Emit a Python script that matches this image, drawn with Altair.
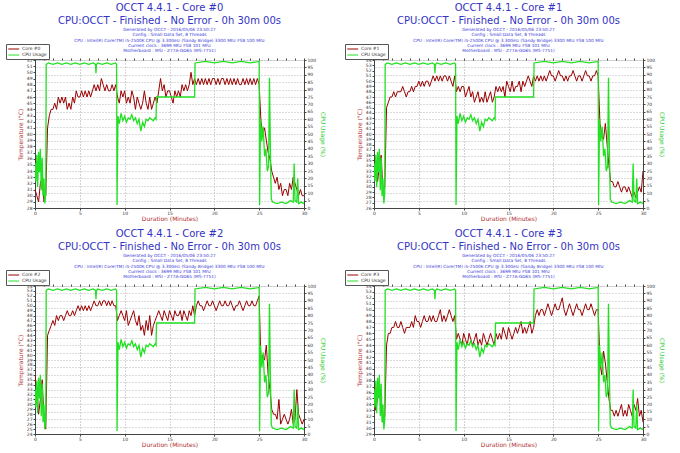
import altair as alt
import pandas as pd

# ---------------- data ----------------
STEP = 0.2  # minutes between temperature samples below (0.0 ... 30.0)

core0_temp = [31, 30, 29, 32, 33, 29, 30, 41, 43, 44,
              44, 45, 44, 46, 45, 46, 45, 46, 44, 45,
              44, 46, 45, 47, 46, 46, 47, 46, 47, 46,
              47, 46, 47, 48, 47, 48, 47, 49, 48, 47,
              48, 47, 47, 48, 47, 48, 46, 45, 47, 46,
              47, 45, 46, 45, 47, 46, 44, 46, 45, 44,
              45, 47, 45, 44, 46, 44, 45, 46, 45, 47,
              49, 47, 48, 46, 47, 47, 46, 45, 47, 46,
              47, 46, 48, 47, 48, 47, 48, 50, 48, 49,
              48, 49, 48, 49, 48, 49, 48, 49, 48, 49,
              49, 48, 49, 48, 49, 49, 48, 49, 48, 49,
              48, 49, 48, 49, 48, 48, 49, 48, 49, 48,
              49, 48, 49, 48, 49, 48, 42, 40, 41, 39,
              37, 36, 34, 33, 32, 33, 31, 32, 30, 31,
              31, 30, 32, 31, 33, 32, 31, 30, 31, 30,
              30]

core1_temp = [33, 35, 31, 34, 36, 29, 30, 45, 46, 47,
              47, 48, 47, 48, 48, 48, 49, 48, 47, 48,
              48, 49, 48, 49, 49, 50, 49, 50, 49, 50,
              50, 49, 50, 51, 50, 51, 50, 51, 50, 51,
              51, 50, 51, 50, 49, 51, 48, 49, 48, 49,
              49, 47, 48, 49, 47, 48, 46, 47, 48, 46,
              47, 46, 48, 46, 47, 48, 46, 47, 49, 48,
              49, 48, 49, 47, 50, 49, 48, 50, 48, 49,
              49, 50, 48, 50, 49, 50, 51, 50, 49, 51,
              50, 51, 50, 51, 50, 51, 50, 51, 52, 51,
              51, 50, 51, 52, 51, 51, 50, 51, 50, 51,
              51, 52, 51, 50, 51, 51, 50, 51, 52, 51,
              51, 50, 51, 51, 52, 51, 42, 40, 39, 42,
              38, 34, 31, 31, 30, 30, 31, 30, 29, 30,
              30, 29, 30, 29, 28, 29, 28, 29, 30, 29,
              33]

core2_temp = [36, 33, 28, 31, 35, 27, 25, 44, 45, 46,
              47, 46, 48, 47, 48, 48, 47, 48, 49, 48,
              48, 49, 48, 49, 50, 49, 50, 49, 50, 49,
              50, 49, 50, 51, 50, 50, 51, 50, 51, 51,
              50, 51, 50, 51, 50, 50, 47, 48, 49, 48,
              47, 49, 46, 47, 48, 49, 47, 46, 48, 45,
              46, 44, 47, 45, 48, 44, 46, 47, 48, 49,
              48, 47, 49, 48, 47, 49, 48, 47, 49, 48,
              48, 49, 47, 49, 48, 47, 49, 48, 50, 48,
              50, 51, 50, 50, 49, 50, 51, 50, 50, 51,
              50, 49, 50, 51, 50, 50, 51, 50, 50, 51,
              50, 49, 50, 50, 51, 50, 49, 50, 51, 50,
              50, 51, 50, 50, 51, 52, 38, 40, 39, 42,
              36, 33, 29, 28, 28, 27, 31, 26, 27, 28,
              27, 26, 27, 29, 26, 27, 33, 28, 27, 26,
              27]

core3_temp = [37, 33, 35, 36, 34, 31, 32, 44, 46, 46,
              47, 47, 48, 47, 47, 48, 47, 46, 47, 47,
              47, 48, 47, 49, 48, 48, 47, 48, 49, 48,
              48, 49, 48, 49, 48, 48, 49, 50, 48, 49,
              48, 49, 50, 49, 48, 49, 45, 46, 45, 44,
              46, 45, 44, 46, 45, 44, 45, 46, 44, 45,
              44, 46, 45, 44, 45, 46, 45, 44, 46, 45,
              46, 45, 47, 46, 45, 47, 46, 45, 46, 47,
              46, 47, 48, 46, 47, 46, 47, 48, 46, 47,
              49, 50, 49, 50, 50, 49, 50, 51, 50, 49,
              50, 51, 50, 50, 51, 52, 50, 49, 50, 51,
              50, 49, 50, 51, 50, 50, 49, 50, 51, 50,
              50, 51, 50, 49, 50, 50, 41, 39, 43, 41,
              38, 35, 33, 33, 32, 33, 32, 33, 34, 32,
              33, 32, 34, 33, 32, 34, 33, 35, 32, 33,
              31]

cpu_time = [0.0, 0.1, 0.2, 0.3, 0.4, 0.5, 0.6, 0.7, 0.8, 0.9, 1.0, 1.1, 1.2,
            1.25, 1.5, 2.0, 2.5, 3.0, 3.5, 4.0, 4.5, 5.0, 5.5, 6.0, 6.5, 6.75,
            6.8, 6.85, 7.0, 7.5, 8.0, 8.5, 9.0, 9.1, 9.15,
            9.25, 9.4, 9.6, 9.8,
            10.0, 10.2, 10.4, 10.6, 10.8, 11.0, 11.2, 11.4, 11.6, 11.8, 12.0, 12.2,
            12.4, 12.6, 12.8, 13.0, 13.2, 13.4,
            13.5, 13.55, 14.5, 15.5, 16.5, 17.8, 17.85,
            19.0, 20.0, 21.0, 22.0, 23.0, 24.0,
            25.0, 25.05, 25.15, 25.3, 25.45, 25.6, 25.75, 25.9, 26.05, 26.15, 26.25, 26.35, 26.5,
            27.0, 27.5, 28.0, 28.5, 28.8, 28.9, 29.0, 29.2, 29.3, 29.4, 29.7, 30.0]
cpu_value = [30, 18, 36, 14, 38, 24, 40, 12, 34, 8, 20, 3, 10,
             97, 98, 97, 98, 97, 98, 97, 98, 97, 98, 97, 98, 97,
             91, 97, 98, 97, 98, 97, 98, 97, 2,
             62, 57, 64, 59,
             62, 58, 61, 60, 63, 59, 61, 57, 60, 52, 58, 55,
             60, 59, 61, 60, 59, 61,
             60, 75, 75, 75, 75, 75, 98,
             99, 98, 99, 98, 99, 98,
             99, 2, 60, 45, 55, 35, 40, 25, 28, 88, 40, 6, 4,
             3, 4, 3, 5, 4, 30, 5, 4, 20, 3, 4, 3]

core_names = ["Core #0", "Core #1", "Core #2", "Core #3"]
core_temps = [core0_temp, core1_temp, core2_temp, core3_temp]
temp_ranges = [(28, 52), (26, 54), (24, 54), (29, 54)]
major_minutes = [0, 5, 10, 15, 20, 25, 30]
minor_minutes = list(range(0, 31))

info_lines = [
    "Generated by OCCT - 2016/05/06 23:50:27",
    "Config : Small Data Set, 8 Threads",
    "CPU : Intel(R) Core(TM) i5-2500K CPU @ 3.30GHz (Sandy Bridge) 3300 Mhz FSB 100 Mhz",
    "Current clock : 3699 Mhz FSB 101 Mhz",
    "Motherboard : MSI - Z77A-GD65 (MS-7751)",
]
status_line = "CPU:OCCT - Finished - No Error - 0h 30m 00s"

# ---------------- styling ----------------
RED = "#990000"
GREEN = "#22E022"
BLUE = "#3333C4"
SUBBLUE = "#3A3AD8"
FONT = "DejaVu Sans"
PW, PH = 269, 148


def panel(name, temps, lo, hi):
    tdf = pd.DataFrame({"t": [round(i * STEP, 2) for i in range(len(temps))],
                        "v": temps, "s": name})
    cdf = pd.DataFrame({"t": cpu_time, "v": cpu_value, "s": "CPU Usage"})
    color = alt.Color(
        "s:N",
        scale=alt.Scale(domain=[name, "CPU Usage"], range=[RED, GREEN]),
        legend=alt.Legend(
            orient="none", legendX=-29, legendY=-16, title=None,
            direction="vertical", fillColor="white", strokeColor="#555",
            padding=1.5, rowPadding=0, labelFontSize=4.5, labelColor="#333",
            labelOffset=7.5, symbolType="M-1,0L3,0", symbolSize=30,
            symbolStrokeWidth=1, labelFont=FONT,
        ),
    )
    xaxis_major = alt.Axis(
        values=major_minutes, labelOverlap=False,
        grid=True, gridDash=[1, 2], gridColor="#A8A8A8",
        title="Duration (Minutes)", titleColor="#B03030", titleFontSize=6,
        titleFontWeight="normal", titlePadding=0.5,
        labelFontSize=4.5, labelColor="#333", labelPadding=0,
        tickSize=2, tickColor="#444", domainColor="#444", labelFlush=False,
    )
    xaxis_minor = alt.Axis(
        values=minor_minutes, labels=False, grid=False, domain=False,
        title=None, tickSize=2, tickColor="#444",
    )
    temp = alt.Chart(tdf).mark_line(strokeWidth=1, clip=True).encode(
        x=alt.X("t:Q", scale=alt.Scale(domain=[0, 30], nice=False), axis=xaxis_major),
        y=alt.Y("v:Q", scale=alt.Scale(domain=[lo, hi], nice=False, zero=False),
                axis=alt.Axis(values=list(range(lo, hi + 1)), grid=False,
                              title="Temperature (°C)", titleColor="#B03030",
                              titleFontSize=6, titleFontWeight="normal",
                              titlePadding=3, labelFontSize=4.5, labelColor="#333",
                              labelPadding=1, labelOverlap=False, labelFlush=False,
                              tickSize=2, tickColor="#444", domainColor="#444")),
        color=color,
    )
    cpu = alt.Chart(cdf).mark_line(strokeWidth=1.3, clip=True).encode(
        x=alt.X("t:Q", axis=xaxis_minor),
        y=alt.Y("v:Q", scale=alt.Scale(domain=[0, 100], nice=False),
                axis=alt.Axis(orient="right", values=list(range(0, 101, 5)),
                              grid=True, gridDash=[1, 2], gridColor="#B8B8B8",
                              title="CPU Usage (%)", titleColor="#33CC33",
                              titleFontSize=6, titleFontWeight="normal",
                              titlePadding=4, labelFontSize=4.5, labelColor="#333",
                              labelPadding=1, labelOverlap=False, labelFlush=False,
                              tickSize=2, tickColor="#444", domainColor="#444")),
        color=color,
    )
    return alt.layer(temp, cpu).resolve_scale(y="independent").resolve_axis(
        x="independent"
    ).properties(
        width=PW, height=PH,
        title=alt.TitleParams(
            text=["OCCT 4.4.1 - " + name, status_line],
            subtitle=info_lines,
            anchor="middle", frame="group", font=FONT, fontSize=10,
            fontWeight="normal", color=BLUE, lineHeight=13,
            subtitleFont=FONT, subtitleFontSize=4.3, subtitleColor=SUBBLUE,
            subtitleLineHeight=5.3, subtitlePadding=2, offset=-10,
        ),
    )


panels = [panel(n, t, lo, hi) for n, t, (lo, hi) in zip(core_names, core_temps, temp_ranges)]

chart = alt.concat(*panels, columns=2, spacing={"row": 6, "column": 17}).resolve_scale(
    color="independent"
).resolve_legend(color="independent").properties(
    padding={"left": 5, "top": 2, "right": 0, "bottom": 0},
    background="white",
).configure_view(fill="#FFF8E6", stroke="#8A8A8A", strokeWidth=0.8).configure(font=FONT)

chart.save("out.html", embed_options={"renderer": "svg", "actions": False})
